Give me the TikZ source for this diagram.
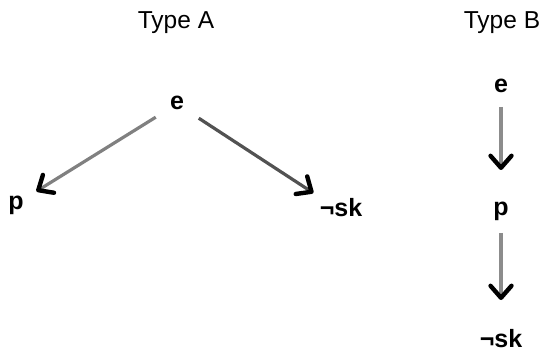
\documentclass[tikz,border=0pt]{standalone}
\usepackage{fontspec}
\setmainfont{Liberation Sans}
\usetikzlibrary{arrows.meta}

\tikzset{
  title/.style={anchor=base, inner sep=0pt, font=\fontsize{24.5}{28}\selectfont},
  term/.style={anchor=base, inner sep=0pt, outer sep=0pt,
    text height=17pt, text depth=5pt,
    font=\fontsize{25}{28}\selectfont\bfseries},
  link/.style={line width=3.2pt,
    -{Straight Barb[length=12pt, width=21pt, line width=4.4pt, black, round]}},
}

\begin{document}
\begin{tikzpicture}[x=1pt, y=-1pt]
  \useasboundingbox (0,0) rectangle (542,353);

  % headings
  \node[title] (tA) at (176,29) {Type A};
  \node[title] (tB) at (502,29) {Type B};

  % Type A: e branches into p and ¬sk
  \node[term] (eA) at (177,110) {e};
  \node[term] (pA) at (16,210) {p};
  \node[term] (nA) at (341,217) {¬sk};

  \draw[link, color=black!50, shorten <=25pt, shorten >=24pt] (eA.center) -- (pA.center);
  \draw[link, color=black!68, shorten <=26pt, shorten >=33pt] (eA.center) -- (nA.center);

  % Type B: chain e -> p -> ¬sk
  \node[term] (eB) at (501,93) {e};
  \node[term] (pB) at (501,215) {p};
  \node[term] (nB) at (501,347) {¬sk};

  \draw[link, color=black!45, shorten <=20pt, shorten >=39pt] (eB.center) -- (pB.center);
  \draw[link, color=black!45, shorten <=24pt, shorten >=41pt] (pB.center) -- (nB.center);
\end{tikzpicture}
\end{document}
